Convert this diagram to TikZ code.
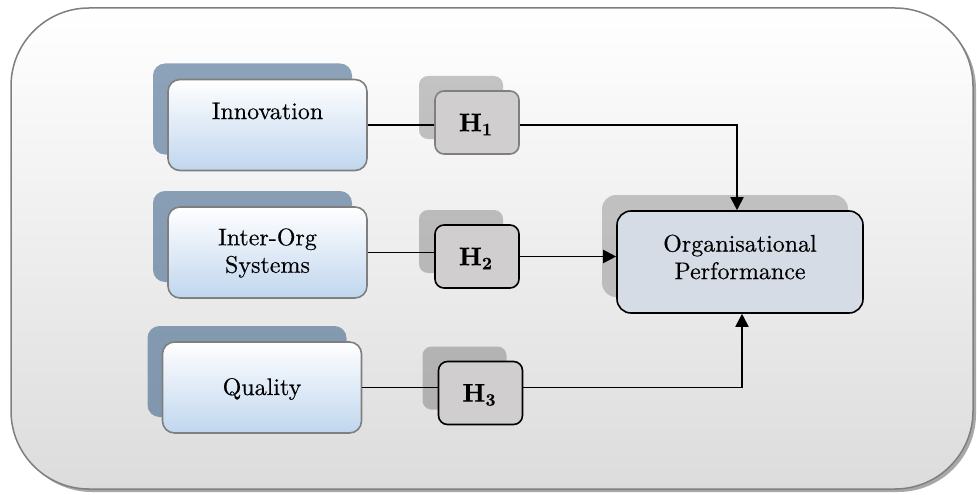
\documentclass[tikz,border=0pt]{standalone}
\usepackage{fontspec}
\newfontfamily\heavyfont{lmroman10-regular.otf}[FakeBold=0.35]
\newfontfamily\hfont{lmroman10-bold.otf}[FakeBold=0.5]
\usetikzlibrary{shadows,arrows.meta,calc}
\definecolor{framebd}{HTML}{7F7F7F}
\definecolor{frameshd}{HTML}{A8A8A8}
\definecolor{bgbot}{HTML}{DCDCDC}
\definecolor{boxbot}{HTML}{C0D6EE}
\definecolor{blueshd}{RGB}{50,90,130}
\definecolor{hfill}{HTML}{D0CECE}
\definecolor{orgfill}{HTML}{D6DCE5}
\newcommand{\hyp}[1]{H\raisebox{-4pt}{\fontsize{17.5}{18}\selectfont #1}}
\tikzset{
  frontbox/.style={rectangle, rounded corners=12pt, draw=framebd, line width=1.6pt,
    top color=white, bottom color=boxbot, minimum width=199pt, minimum height=91pt,
    general shadow={shadow xshift=-15pt, shadow yshift=16pt, fill=blueshd, fill opacity=0.55, draw=none}},
  hbox/.style={rectangle, rounded corners=9pt, line width=1.6pt, fill=hfill,
    minimum width=84pt, minimum height=63pt,
    general shadow={shadow xshift=-16pt, shadow yshift=15pt, fill=black, fill opacity=0.22, draw=none}},
  orgbox/.style={rectangle, rounded corners=14pt, draw=black, line width=1.6pt, fill=orgfill,
    minimum width=246pt, minimum height=102pt,
    general shadow={shadow xshift=-15pt, shadow yshift=16pt, fill=black, fill opacity=0.2, draw=none}},
  lbl/.style={font=\heavyfont\fontsize{24}{27.5}\selectfont, align=center},
  hlbl/.style={font=\hfont\fontsize{25.5}{28}\selectfont},
  conn/.style={line width=1.9pt, draw=black},
  arr/.style={conn, -{Triangle[length=13pt,width=13pt]}}
}
\begin{document}
\begin{tikzpicture}[x=1pt,y=1pt]
\useasboundingbox (0,0) rectangle (977,-495);
% outer frame
\fill[frameshd, rounded corners=78pt] (14,-11) rectangle (976,-492);
\shadedraw[top color=white, bottom color=bgbot, draw=framebd, line width=1.5pt, rounded corners=78pt]
  (11,-8) rectangle (973,-489);
% left boxes
\node[frontbox] (inno) at (267.5,-125) {};
\node[lbl] (innot) at (267.5,-111) {Innovation};
\node[frontbox] (inter) at (267.5,-252.5) {};
\node[lbl] (intert) at (267.5,-253) {Inter-Org\\Systems};
\node[frontbox] (qual) at (262,-387.5) {};
\node[lbl] (qualt) at (262,-389) {Quality};
% hypotheses
\node[hbox, draw=framebd] (h1) at (477,-122.5) {};
\node[hlbl] (h1t) at (475.5,-124.5) {\hyp{1}};
\node[hbox, draw=black] (h2) at (477,-256.5) {};
\node[hlbl] (h2t) at (475.5,-258.5) {\hyp{2}};
\node[hbox, draw=black] (h3) at (480.5,-393) {};
\node[hlbl] (h3t) at (479,-395) {\hyp{3}};
% outcome
\node[orgbox] (org) at (740,-262) {};
\node[lbl] (orgt) at (740,-257) {Organisational\\Performance};
% connectors
\draw[conn] (inno.east) -- (inno.east -| h1.west);
\draw[arr] (h1.east |- inno.east) -| ($(org.north)+(-3,0)$);
\draw[conn] (inter.east) -- (inter.east -| h2.west);
\draw[arr] (h2.east) -- (h2.east -| org.west);
\draw[conn] (qual.east) -- (qual.east -| h3.west);
\draw[arr] (h3.east |- qual.east) -| ($(org.south)+(2,0)$);
\end{tikzpicture}
\end{document}
